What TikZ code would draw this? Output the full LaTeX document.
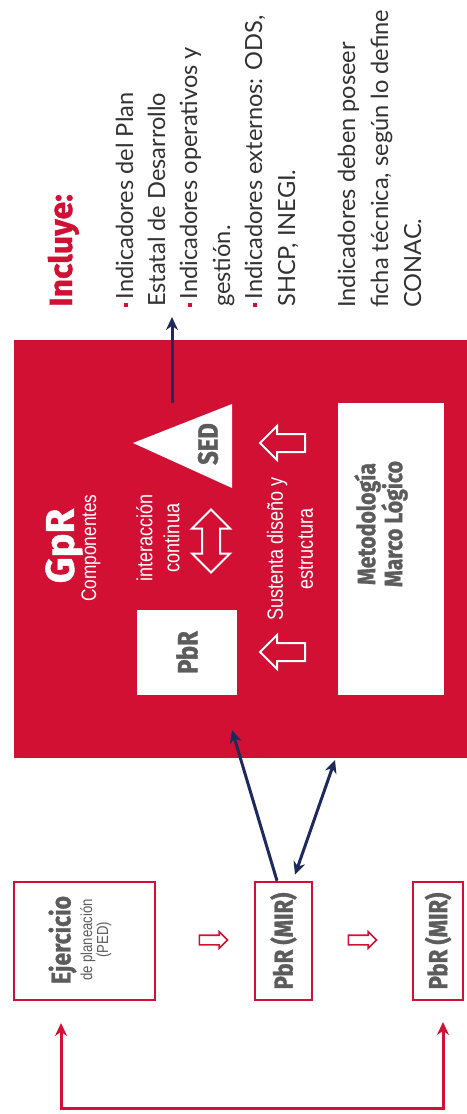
\documentclass[tikz,border=0pt]{standalone}
\usepackage{fontspec}
\setmainfont{Lato}
\newfontfamily\hf[FakeStretch=0.85, BoldFeatures={FakeBold=1.2}]{Fira Sans}
\newfontfamily\hfw[BoldFeatures={FakeBold=1.2}]{Fira Sans}
\newfontfamily\cf[FakeStretch=0.82]{Liberation Sans}
\newfontfamily\bodyf{Lato}
\usetikzlibrary{shapes.arrows,arrows.meta}
\definecolor{gpred}{RGB}{210,16,52}
\definecolor{navy}{RGB}{30,42,92}
\definecolor{lblgray}{RGB}{92,92,92}
\definecolor{bodytxt}{RGB}{50,50,50}
\newcommand{\bul}{{\color{gpred}\rule[0.22em]{0.16em}{0.16em}}\hspace{0.16em}}
\begin{document}
\begin{tikzpicture}[x=1pt,y=-1pt,
  >={Stealth[length=13pt,width=12pt]},
  vtxt/.style={rotate=90, inner sep=0pt},
  body/.style={vtxt, anchor=base west, text=bodytxt, font=\bodyf\fontsize{23.6}{30}\selectfont},
  wlab/.style={vtxt, text=white, align=center},
  glab/.style={vtxt, text=lblgray, align=center},
  wbox/.style={fill=white, draw=none, inner sep=0pt},
  rbox/.style={draw=gpred, line width=2.5pt, fill=white, inner sep=0pt},
  hollowW/.style={single arrow, draw=white, fill=gpred, line width=2pt, inner xsep=0pt},
  hollowR/.style={single arrow, draw=gpred, fill=white, line width=1.6pt, inner xsep=0pt},
  navyline/.style={draw=navy, line width=3pt}
]
\useasboundingbox (0,0) rectangle (466,1114);
\fill[white] (0,0) rectangle (466,1114);

% GpR red block
\node[fill=gpred, minimum width=460pt, minimum height=418pt, inner sep=0pt] (gpr) at (244,549) {};
\node[wbox, minimum width=106pt, minimum height=292pt] (mml) at (391,549) {};
\node[wbox, minimum width=100pt, minimum height=85pt] (pbr) at (187,652.5) {};
\fill[white] (232,404) -- (232,488) -- (133,443) -- cycle;

\node[wlab, font=\hfw\bfseries\fontsize{40}{40}\selectfont] (gprt) at (64,546) {GpR};
\node[wlab, font=\cf\fontsize{21}{24}\selectfont] (comp) at (91,548) {Componentes};
\node[wlab, font=\cf\fontsize{22}{27}\selectfont] (inter) at (158,538) {interacción\\continua};
\node[wlab, font=\cf\fontsize{22}{30}\selectfont] (sust) at (290,549) {Sustenta diseño y\\estructura};
\node[glab, font=\hf\bfseries\fontsize{28}{28}\selectfont] (pbrt) at (pbr.center) {PbR};
\node[glab, font=\hf\bfseries\fontsize{28}{28}\selectfont] (sedt) at (208,444) {SED};
\node[glab, font=\hf\bfseries\fontsize{25}{27}\selectfont] (mmlt) at (381,524) {Metodología\\Marco Lógico};

\node[double arrow, draw=white, fill=gpred, line width=2pt, inner xsep=8pt, inner ysep=0pt,
      minimum height=63pt, double arrow head extend=10pt,
      shape border rotate=90] (dar) at (211,541) {};
\node[hollowW, inner ysep=8pt, minimum height=45pt, single arrow head extend=8pt,
      shape border rotate=180] (sa1) at (287,652) {};
\node[hollowW, inner ysep=8pt, minimum height=45pt, single arrow head extend=8pt,
      shape border rotate=180] (sa2) at (287,443) {};

% Incluye block
\node[vtxt, anchor=base west, text=gpred, font=\hfw\bfseries\fontsize{32}{32}\selectfont] (inc) at (72,307) {Incluye:};
\node[body] (l1) at (133,307) {\bul Indicadores del Plan};
\node[body] (l2) at (165,307) {Estatal de Desarrollo};
\node[body] (l3) at (197,307) {\bul Indicadores operativos y};
\node[body] (l4) at (230,307) {gestión.};
\node[body] (l5) at (262,307) {\bul Indicadores externos: ODS,};
\node[body] (l6) at (295,307) {SHCP, INEGI.};
\node[body] (m1) at (355,308) {Indicadores deben poseer};
\node[body] (m2) at (388,308) {ficha técnica, según lo define};
\node[body] (m3) at (421,308) {CONAC.};

% bottom boxes
\node[rbox, minimum width=141pt, minimum height=118pt] (b1) at (84.5,941) {};
\node[rbox, minimum width=57pt, minimum height=118pt] (b2) at (283.5,941) {};
\node[rbox, minimum width=50pt, minimum height=118pt] (b3) at (438,941) {};
\node[glab] (b1t) at (80,940) {{\hf\bfseries\fontsize{27}{27}\selectfont Ejercicio}\\[3pt]{\cf\fontsize{16}{18}\selectfont de planeación}\\{\cf\fontsize{16}{18}\selectfont (PED)}};
\node[glab, font=\hf\bfseries\fontsize{26}{26}\selectfont] (b2t) at (b2.center) {PbR (MIR)};
\node[glab, font=\hf\bfseries\fontsize{26}{26}\selectfont] (b3t) at (b3.center) {PbR (MIR)};
\node[hollowR, inner ysep=4pt, minimum height=28pt, single arrow head extend=3.5pt] (ha1) at (211,940) {};
\node[hollowR, inner ysep=4pt, minimum height=28pt, single arrow head extend=3.5pt] (ha2) at (360,940) {};

% connectors
\coordinate (pA) at (232,730);
\coordinate (pB) at (335,760);
\coordinate (sedfoot) at (172,403);
\coordinate (inctip) at (172,317);
\draw[navyline, ->] ([xshift=-6.5pt]b2.north) -- (pA);
\draw[navyline, <->] ([xshift=11.5pt,yshift=6pt]b2.north) -- (pB);
\draw[navyline, ->] (sedfoot) -- (inctip);
\coordinate (fb1) at (61,1023);
\coordinate (fb3) at (443,1022);
\draw[draw=gpred, line width=3pt, <->] (fb1) -- (61,1108) -- (443,1108) -- (fb3);
\end{tikzpicture}
\end{document}
